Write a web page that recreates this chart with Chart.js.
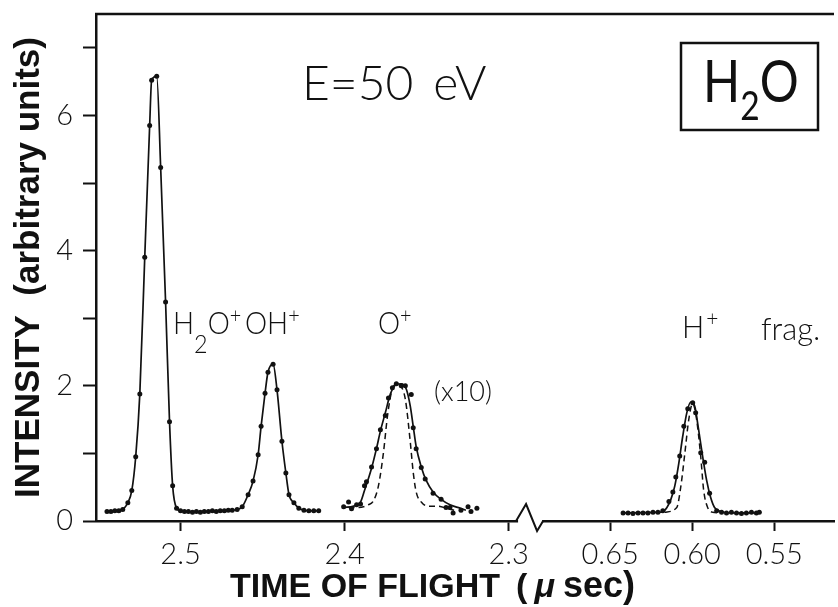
<!DOCTYPE html>
<html>
<head>
<meta charset="utf-8">
<title>H2O time of flight, E = 50 eV</title>
<script src="https://cdn.jsdelivr.net/npm/chart.js@4.4.1/dist/chart.umd.min.js"></script>
<style>
  body { margin: 0; background: #fff; }
  #wrap { width: 838px; height: 607px; }
</style>
</head>
<body>
<div id="wrap"><canvas id="tof" width="838" height="607"></canvas></div>
<script>
// time of flight in usec, intensity in arbitrary units
// H2O+ and OH+ (measured points, joined)
const molTime = [2.5448, 2.5424, 2.5400, 2.5376, 2.5352, 2.5321, 2.5297, 2.5273, 2.5248, 2.5218,
  2.5188, 2.5176, 2.5145, 2.5121, 2.5091, 2.5067, 2.5048, 2.5024,
  2.5000, 2.4976, 2.4952, 2.4927, 2.4903, 2.4879, 2.4855, 2.4830, 2.4806, 2.4782, 2.4758, 2.4733, 2.4709,
  2.4685, 2.4655, 2.4624, 2.4588, 2.4558, 2.4527, 2.4509, 2.4485, 2.4467, 2.4436,
  2.4412, 2.4382, 2.4358, 2.4339, 2.4309, 2.4279, 2.4248, 2.4218, 2.4188, 2.4158];
const molVal = [0.14, 0.14, 0.15, 0.15, 0.17, 0.27, 0.45, 0.95, 1.88, 3.90,
  5.85, 6.52, 6.58, 5.23, 3.24, 1.47, 0.52, 0.19,
  0.15, 0.14, 0.14, 0.13, 0.14, 0.13, 0.14, 0.14, 0.15, 0.14, 0.15, 0.15, 0.16,
  0.16, 0.17, 0.21, 0.39, 0.59, 0.98, 1.40, 1.89, 2.20, 2.32,
  1.94, 1.18, 0.71, 0.39, 0.27, 0.19, 0.16, 0.15, 0.15, 0.15];

// O+ (x10): measured points, solid fit, dashed narrow curve
const oTime = [2.4006, 2.3976, 2.3958, 2.3927, 2.3903, 2.3879, 2.3867, 2.3836, 2.3806, 2.3782,
  2.3752, 2.3733, 2.3709, 2.3685, 2.3655, 2.3630, 2.3594, 2.3582, 2.3564, 2.3533,
  2.3509, 2.3461, 2.3412, 2.3382, 2.3358, 2.3339, 2.3291, 2.3248, 2.3230, 2.3194];
const oVal = [0.21, 0.28, 0.18, 0.24, 0.25, 0.52, 0.58, 0.80, 1.07, 1.35,
  1.56, 1.82, 1.97, 2.03, 2.00, 2.00, 1.87, 1.38, 1.07, 0.79,
  0.62, 0.41, 0.32, 0.20, 0.20, 0.12, 0.16, 0.21, 0.14, 0.19];
const oFitTime = [2.4006, 2.3945, 2.3903, 2.3879, 2.3836, 2.3806, 2.3782, 2.3752, 2.3721, 2.3685, 2.3655,
  2.3624, 2.3600, 2.3582, 2.3564, 2.3533, 2.3503, 2.3461, 2.3412, 2.3358, 2.3297, 2.3261];
const oFitVal = [0.20, 0.22, 0.28, 0.45, 0.78, 1.07, 1.33, 1.60, 1.88, 2.02, 2.03,
  1.95, 1.70, 1.40, 1.10, 0.80, 0.60, 0.43, 0.32, 0.24, 0.19, 0.16];
const oNarrowTime = [2.3976, 2.3915, 2.3855, 2.3824, 2.3794, 2.3764, 2.3739, 2.3715, 2.3691, 2.3661,
  2.3630, 2.3600, 2.3582, 2.3564, 2.3533, 2.3491, 2.3430, 2.3370, 2.3333];
const oNarrowVal = [0.20, 0.20, 0.24, 0.30, 0.52, 1.00, 1.55, 1.90, 2.02, 2.00,
  1.80, 1.17, 0.72, 0.43, 0.28, 0.22, 0.22, 0.18, 0.16];

// H+ (fast block, right of the axis break)
const hTime = [0.6421, 0.6391, 0.6361, 0.6330, 0.6300, 0.6270, 0.6239, 0.6209, 0.6179,
  0.6142, 0.6118, 0.6100, 0.6076, 0.6051, 0.6027, 0.5997, 0.5979, 0.5948, 0.5924, 0.5894,
  0.5851, 0.5821, 0.5791, 0.5761, 0.5730, 0.5700, 0.5670, 0.5639, 0.5609, 0.5591];
const hVal = [0.12, 0.12, 0.11, 0.12, 0.12, 0.12, 0.13, 0.13, 0.15,
  0.29, 0.43, 0.65, 0.96, 1.40, 1.66, 1.75, 1.60, 1.01, 0.87, 0.41,
  0.15, 0.13, 0.12, 0.13, 0.12, 0.11, 0.12, 0.13, 0.12, 0.13];
const hFitTime = [0.6421, 0.6185, 0.6154, 0.6130, 0.6106, 0.6082, 0.6058, 0.6033, 0.6009,
  0.5985, 0.5961, 0.5936, 0.5912, 0.5888, 0.5864, 0.5827, 0.5761, 0.5591];
const hFitVal = [0.12, 0.13, 0.20, 0.32, 0.52, 0.85, 1.25, 1.60, 1.76,
  1.70, 1.35, 0.95, 0.60, 0.35, 0.20, 0.14, 0.12, 0.12];
const hNarrowTime = [0.6167, 0.6094, 0.6070, 0.6045, 0.6021, 0.5997, 0.5973, 0.5948, 0.5930, 0.5906, 0.5876, 0.5821];
const hNarrowVal = [0.13, 0.20, 0.50, 1.00, 1.50, 1.74, 1.50, 0.95, 0.45, 0.20, 0.13, 0.12];

const xTickTimes = [2.5, 2.4, 2.3, 0.65, 0.60, 0.55];
const xTickLabels = ['2.5', '2.4', '2.3', '0.65', '0.60', '0.55'];
const yTickValues = [0, 1, 2, 3, 4, 5, 6, 7];

const INK = '#111';
// the H+ block is slid left so it sits just after the break
const FAST_SHIFT = 1.5882;
const BREAK_AT = 2.287;
const axisPos = t => (t < 1 ? t + FAST_SHIFT : t);
const pts = (ts, vs) => ts.map((t, i) => ({ x: axisPos(t), y: vs[i] }));

function runText(ctx, x, y, parts, squeeze) {
  ctx.save();
  ctx.translate(x, y);
  ctx.scale(squeeze, 1);
  ctx.textAlign = 'left';
  ctx.textBaseline = 'alphabetic';
  let cx = 0;
  for (const p of parts) {
    ctx.font = `${p.style || 'normal'} ${p.weight || 300} ${p.size}px ${p.family || 'Lato'}`;
    ctx.fillText(p.text, cx, p.dy || 0);
    cx += ctx.measureText(p.text).width + (p.gap || 0);
  }
  ctx.restore();
}

const decor = {
  id: 'decor',
  afterDraw(chart) {
    const { ctx, chartArea: a, scales: { x } } = chart;
    ctx.save();
    ctx.strokeStyle = INK;
    ctx.fillStyle = INK;
    ctx.lineWidth = 2.5;
    ctx.beginPath();
    ctx.moveTo(a.left - 1, a.top);
    ctx.lineTo(a.right, a.top);
    ctx.stroke();

    // broken time axis
    const bx = x.getPixelForValue(BREAK_AT);
    const by = a.bottom;
    ctx.fillStyle = '#fff';
    ctx.fillRect(bx - 12, by - 3, 24, 6);
    ctx.lineWidth = 2;
    ctx.beginPath();
    ctx.moveTo(bx - 14, by);
    ctx.lineTo(bx - 4, by - 17);
    ctx.lineTo(bx + 7, by + 10);
    ctx.lineTo(bx + 13, by);
    ctx.stroke();

    ctx.fillStyle = INK;
    runText(ctx, 302, 100, [{ text: 'E=50', size: 48, gap: 20 }, { text: 'eV', size: 48 }], 1);

    ctx.lineWidth = 2.5;
    ctx.strokeRect(681, 43, 137, 87);
    runText(ctx, 703, 102, [
      { text: 'H', size: 58, weight: 400 },
      { text: '2', size: 40, weight: 400, dy: 18 },
      { text: 'O', size: 58, weight: 400 }
    ], 0.84);

    const sup = { text: '+', size: 22, dy: -11 };
    runText(ctx, 173, 334, [
      { text: 'H', size: 31 }, { text: '2', size: 26, dy: 19 }, { text: 'O', size: 31 }, sup
    ], 0.9);
    runText(ctx, 245, 334, [{ text: 'OH', size: 31 }, sup], 0.9);
    runText(ctx, 378, 334, [{ text: 'O', size: 31 }, sup], 0.9);
    runText(ctx, 434, 401, [{ text: '(x10)', size: 27 }], 1);
    runText(ctx, 682, 338, [{ text: 'H', size: 31, gap: 2 }, { ...sup, dy: -12 }], 0.95);
    runText(ctx, 761, 340, [{ text: 'frag.', size: 31 }], 1);

    // time axis title, with italic mu
    const tf = { family: 'Liberation Sans', weight: 'bold', size: 34 };
    runText(ctx, 230, 597, [
      { ...tf, text: 'TIME OF FLIGHT', gap: 16 },
      { ...tf, text: '(', gap: 7 },
      { ...tf, style: 'italic', text: '\u03bc', gap: 8 },
      { ...tf, size: 36, text: 'sec)' }
    ], 1);
    ctx.restore();
  }
};

const solid = { showLine: true, borderColor: INK, borderWidth: 1.7, cubicInterpolationMode: 'monotone', pointRadius: 0 };
const dashed = { showLine: true, borderColor: INK, borderWidth: 1.5, borderDash: [6, 4], cubicInterpolationMode: 'monotone', pointRadius: 0 };
const dots = { showLine: false, pointRadius: 2.5, pointBackgroundColor: INK, pointBorderWidth: 0 };

new Chart(document.getElementById('tof'), {
  type: 'scatter',
  data: {
    datasets: [
      { label: 'O+ narrow', data: pts(oNarrowTime, oNarrowVal), ...dashed },
      { label: 'H+ narrow', data: pts(hNarrowTime, hNarrowVal), ...dashed },
      { label: 'O+ fit', data: pts(oFitTime, oFitVal), ...solid },
      { label: 'H+ fit', data: pts(hFitTime, hFitVal), ...solid },
      { label: 'H2O+ / OH+', data: pts(molTime, molVal), ...solid, pointRadius: 2.5, pointBackgroundColor: INK, pointBorderWidth: 0 },
      { label: 'O+ (x10)', data: pts(oTime, oVal), ...dots },
      { label: 'H+', data: pts(hTime, hVal), ...dots }
    ]
  },
  options: {
    responsive: false,
    animation: false,
    devicePixelRatio: 1,
    layout: { padding: { top: 14, right: 0, left: 0, bottom: 0 } },
    plugins: { legend: { display: false }, tooltip: { enabled: false } },
    scales: {
      x: {
        type: 'linear',
        reverse: true,
        min: 2.1018,
        max: 2.5515,
        afterBuildTicks: s => { s.ticks = xTickTimes.map(t => ({ value: axisPos(t) })); },
        afterFit: s => { s.height = 86; s.paddingLeft = 0; s.paddingRight = 0; },
        ticks: {
          autoSkip: false, maxRotation: 0, padding: 6, color: INK,
          font: { family: 'Lato', size: 29, weight: '300' },
          callback: (v, i) => xTickLabels[i]
        },
        grid: { display: true, drawOnChartArea: false, drawTicks: true, tickLength: 10, tickWidth: 2, tickColor: INK },
        border: { display: true, color: INK, width: 2.5 }
      },
      y: {
        min: 0,
        max: 7.5,
        afterBuildTicks: s => { s.ticks = yTickValues.map(v => ({ value: v })); },
        afterFit: s => { s.width = 96; s.paddingTop = 0; s.paddingBottom = 0; },
        ticks: {
          padding: 10, color: INK,
          font: { family: 'Lato', size: 29, weight: '300' },
          callback: v => (v % 2 === 0 ? String(v) : '')
        },
        grid: { display: true, drawOnChartArea: false, drawTicks: true, tickLength: 13, tickWidth: 2, tickColor: INK },
        border: { display: true, color: INK, width: 2.5 },
        title: {
          display: true,
          text: 'INTENSITY  (arbitrary units)',
          color: INK,
          font: { family: 'Liberation Sans', size: 35, weight: 'bold' },
          padding: { top: 8, bottom: 0 }
        }
      }
    }
  },
  plugins: [decor]
});
</script>
</body>
</html>
